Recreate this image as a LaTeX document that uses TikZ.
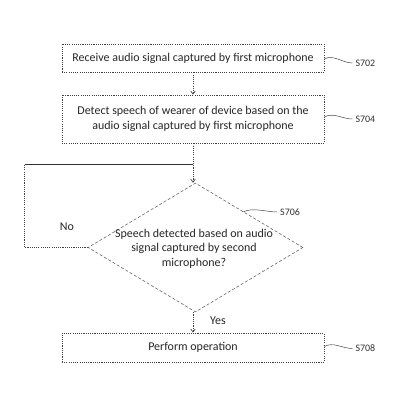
\documentclass[tikz,border=0pt]{standalone}
\usepackage{fontspec}
\setmainfont{Carlito}
\usetikzlibrary{shapes.geometric,arrows.meta}
\begin{document}
\begin{tikzpicture}[x=1bp,y=-1bp,
  boxst/.style={draw=black!75, line width=0.7pt, dash pattern=on 1.1pt off 1.1pt, minimum width=262bp, inner sep=0pt, font=\fontsize{12}{15}\selectfont, text=black!85, align=center},
  dia/.style={draw=black!60, line width=0.6pt, dash pattern=on 3pt off 2pt, diamond, minimum width=215bp, minimum height=129bp, inner sep=0pt},
  dotln/.style={draw=black!75, line width=0.7pt, dash pattern=on 1.1pt off 1.1pt},
  arr/.style={dotln, -{Straight Barb[length=3pt,width=4.5pt]}},
  lbl/.style={font=\fontsize{10}{11}\selectfont, text=black!80, inner sep=0pt, anchor=west},
  sq/.style={draw=black!75, line width=0.5pt}
]
\useasboundingbox (0,0) rectangle (400,400);
\node[boxst, minimum height=28bp] (b1) at (193,58) {Receive audio signal captured by first microphone};
\node[boxst, minimum height=48bp] (b2) at (193,119) {Detect speech of wearer of device based on the\\audio signal captured by first microphone};
\node[dia] (d) at (195.5,247.5) {};
\node[font=\fontsize{12}{14.5}\selectfont, text=black!85, align=center, inner sep=0pt] (dt) at (194,248.5) {Speech detected based on audio\\signal captured by second\\microphone?};
\node[boxst, minimum height=29bp] (b3) at (193,347.5) {Perform operation};
\coordinate (j) at (193,164);
\coordinate (lb) at (24.5,247.5);
\coordinate (lt) at (24.5,164);
\draw[arr] (b1.south -| j) -- (b2.north -| j);
\draw[arr] (b2.south -| j) -- (d.north -| j);
\draw[dotln] (d.west) -- (lb) -- (lt);
\draw[draw=black!80, line width=0.7pt] (lt) -- (j);
\draw[arr] (d.south -| j) -- (b3.north -| j);
\node[font=\fontsize{12}{12}\selectfont, text=black!85] (no) at (67,227) {No};
\node[font=\fontsize{12}{12}\selectfont, text=black!85] (yes) at (218,321) {Yes};
\draw[sq] (b1.east) ++(0,1) .. controls +(9,-5) and +(-10,0) .. ++(28,4) coordinate (s1);
\node[lbl] (l1) at ([xshift=3bp]s1) {S702};
\draw[sq] (b2.east) ++(0,-2) .. controls +(9,-5) and +(-10,0) .. ++(28,2) coordinate (s2);
\node[lbl] (l2) at ([xshift=3bp]s2) {S704};
\coordinate (s3a) at (243,212);
\draw[sq] (s3a) .. controls +(9,-5) and +(-10,0) .. ++(34,0) coordinate (s3);
\node[lbl] (l3) at ([xshift=3bp]s3) {S706};
\draw[sq] (b3.east) ++(0,-1) .. controls +(9,-5) and +(-10,0) .. ++(28,2) coordinate (s4);
\node[lbl] (l4) at ([xshift=3bp]s4) {S708};
\end{tikzpicture}
\end{document}
